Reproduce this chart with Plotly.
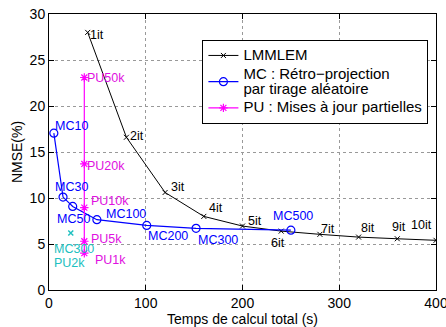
import plotly.graph_objects as go

# ---- data ----
lm_time = [40, 80, 120, 160, 200, 240, 280, 320, 360, 400]
lm_nmse = [28.0, 16.6, 10.6, 8.0, 6.95, 6.4, 6.05, 5.75, 5.57, 5.4]
lm_labels = ["1it", "2it", "3it", "4it", "5it", "6it", "7it", "8it", "9it", "10it"]

mc_time = [5, 14.5, 24.5, 49.5, 101, 152, 250]
mc_nmse = [17.05, 10.1, 9.08, 7.64, 7.02, 6.7, 6.5]
mc_labels = ["MC10", "MC30", "MC50", "MC100", "MC200", "MC300", "MC500"]

pu_time = [36.5, 36.5, 36.5, 36.5, 36.5]
pu_nmse = [4.0, 5.3, 8.95, 13.7, 23.1]
pu_labels = ["PU1k", "PU5k", "PU10k", "PU20k", "PU50k"]

combo_time = [22.5]
combo_nmse = [6.2]
combo_labels = ["MC300", "PU2k"]

x_ticks = [0, 100, 200, 300, 400]
y_ticks = [0, 5, 10, 15, 20, 25, 30]

legend_names = ["LMMLEM", "MC : Rétro−projection<br>par tirage aléatoire", "PU : Mises à jour partielles"]

# ---- styles ----
FONT = "Liberation Sans, Arial, sans-serif"
BLUE = "#0000ff"
MAG = "#ff00ff"
MAG_TXT = "#e010e0"
CYAN = "#20c0c0"

def big(t):
    s = '<span style="font-size:15px">'
    return s + t.replace("<br>", "</span><br>" + s) + "</span>"

# label offsets (xanchor, xshift, yshift) in px
lm_off = [("left", 0, -3), ("left", 2, 1), ("left", 4, 5), ("left", 3, 8), ("left", 3, 5),
          ("center", -3, -12), ("left", -1, 5), ("left", 0, 9), ("left", -7, 12), ("right", -2, 15)]
mc_off = [("left", -1, 7), ("center", 8, 10.5), ("center", 1, -12.5), ("left", 7, 6),
          ("left", -1, -11), ("left", 0, -12), ("center", 2, 14)]
pu_off = [("left", 9, -7), ("left", 5, 2), ("left", 5, 7), ("left", 1, -2), ("left", 1, -1)]
combo_off = [("left", -19, -16), ("left", -19, -30)]

fig = go.Figure()
fig.add_trace(go.Scatter(x=lm_time, y=lm_nmse, mode="lines+markers", name=big(legend_names[0]),
                         line=dict(color="black", width=1),
                         marker=dict(symbol="x-thin-open", size=5, color="black",
                                     line=dict(color="black", width=1))))
fig.add_trace(go.Scatter(x=mc_time, y=mc_nmse, mode="lines+markers",
                         name=big(legend_names[1]),
                         line=dict(color=BLUE, width=1.2),
                         marker=dict(symbol="circle-open", size=8, color=BLUE,
                                     line=dict(color=BLUE, width=1.2))))
fig.add_trace(go.Scatter(x=pu_time, y=pu_nmse, mode="lines+markers",
                         name=big(legend_names[2]),
                         line=dict(color=MAG, width=1.2),
                         marker=dict(symbol="asterisk-open", size=7, color=MAG,
                                     line=dict(color=MAG, width=1.2))))
fig.add_trace(go.Scatter(x=combo_time, y=combo_nmse, mode="markers", showlegend=False,
                         marker=dict(symbol="x-thin-open", size=5, color=CYAN,
                                     line=dict(color=CYAN, width=1.5))))

ann = []
def add_labels(xs, ys, labels, offs, color):
    for x, y, t, (xa, dx, dy) in zip(xs, ys, labels, offs):
        ann.append(dict(x=x, y=y, text=t, showarrow=False, xanchor=xa, yanchor="middle",
                        xshift=dx, yshift=dy, font=dict(family=FONT, size=12.5, color=color)))

add_labels(lm_time, lm_nmse, lm_labels, lm_off, "black")
add_labels(mc_time, mc_nmse, mc_labels, mc_off, BLUE)
add_labels(pu_time, pu_nmse, pu_labels, pu_off, MAG_TXT)
add_labels(combo_time * 2, combo_nmse * 2, combo_labels, combo_off, CYAN)

axis_common = dict(showline=True, linecolor="black", linewidth=1, mirror="allticks",
                   ticks="inside", ticklen=5, tickcolor="black", automargin=False,
                   showgrid=True, gridcolor="#999999", griddash="dot", gridwidth=1,
                   zeroline=False, ticklabeloverflow="allow",
                   tickfont=dict(family=FONT, size=14, color="black"))

fig.update_layout(
    width=446, height=327,
    margin=dict(l=49, r=10, t=14, b=37),
    paper_bgcolor="white", plot_bgcolor="white",
    font=dict(family=FONT, size=14, color="black"),
    xaxis=dict(range=[0, 400], tickvals=x_ticks,
               title=dict(text="Temps de calcul total (s)", font=dict(size=14), standoff=0),
               **axis_common),
    yaxis=dict(range=[0, 30], tickvals=y_ticks,
               title=dict(text="NMSE(%)", font=dict(size=14), standoff=3),
               **axis_common),
    legend=dict(x=0.3964, y=0.906, xanchor="left", yanchor="top",
                bgcolor="white", bordercolor="black", borderwidth=1,
                font=dict(family=FONT, size=11.7, color="black"),
                itemwidth=30, tracegroupgap=0),
    annotations=ann,
    showlegend=True,
)

fig.write_html("out.html", config={"displayModeBar": False},
               post_script="document.body.style.margin='0';")
